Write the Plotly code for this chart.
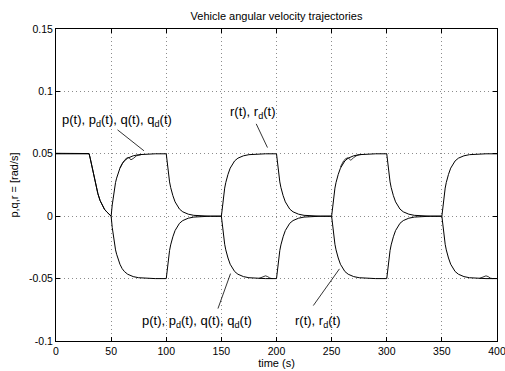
import plotly.graph_objects as go

# ---------------- data ----------------
t = [0, 10, 20, 30, 31, 32, 33, 34, 35, 36, 38, 40, 42, 44, 46, 48,
     50, 51, 52, 53, 54, 55, 56, 58, 60, 62, 65, 70, 75, 80, 90,
     100, 101, 102, 103, 104, 105, 106, 108, 110, 112, 115, 120, 125, 130, 140,
     150, 151, 152, 153, 154, 155, 156, 158, 160, 162, 165, 170, 175, 180, 190,
     200, 201, 202, 203, 204, 205, 206, 208, 210, 212, 215, 220, 225, 230, 240,
     250, 251, 252, 253, 254, 255, 256, 258, 260, 262, 265, 270, 275, 280, 290,
     300, 301, 302, 303, 304, 305, 306, 308, 310, 312, 315, 320, 325, 330, 340,
     350, 351, 352, 353, 354, 355, 356, 358, 360, 362, 365, 370, 375, 380, 390,
     400]

# p(t), p_d(t), q(t), q_d(t)  [rad/s]
pq = [0.05, 0.05, 0.05, 0.05, 0.0465, 0.042, 0.0375, 0.033, 0.029, 0.025, 0.018, 0.0125, 0.0085, 0.0055, 0.0035, 0.002,
      0.0, 0.009, 0.0165, 0.0225, 0.027, 0.0305, 0.0335, 0.0385, 0.042, 0.0443, 0.0465, 0.0484, 0.0493, 0.0497, 0.05,
      0.05, 0.041, 0.0335, 0.0275, 0.023, 0.0195, 0.0165, 0.0115, 0.008, 0.0057, 0.0035, 0.0016, 0.0007, 0.0003, 0.0,
      0.0, -0.009, -0.0165, -0.0225, -0.027, -0.0305, -0.0335, -0.0385, -0.042, -0.0443, -0.0465, -0.0484, -0.0493, -0.0497, -0.05,
      -0.05, -0.041, -0.0335, -0.0275, -0.023, -0.0195, -0.0165, -0.0115, -0.008, -0.0057, -0.0035, -0.0016, -0.0007, -0.0003, 0.0,
      0.0, 0.009, 0.0165, 0.0225, 0.027, 0.0305, 0.0335, 0.0385, 0.042, 0.0443, 0.0465, 0.0484, 0.0493, 0.0497, 0.05,
      0.05, 0.041, 0.0335, 0.0275, 0.023, 0.0195, 0.0165, 0.0115, 0.008, 0.0057, 0.0035, 0.0016, 0.0007, 0.0003, 0.0,
      0.0, -0.009, -0.0165, -0.0225, -0.027, -0.0305, -0.0335, -0.0385, -0.042, -0.0443, -0.0465, -0.0484, -0.0493, -0.0497, -0.05,
      -0.05]

# r(t), r_d(t)  [rad/s]
r = [0.0504, 0.0504, 0.0503, 0.0502, 0.0465, 0.042, 0.0375, 0.033, 0.029, 0.025, 0.018, 0.0125, 0.0085, 0.0055, 0.0035, 0.002,
     0.0, -0.009, -0.0165, -0.0225, -0.027, -0.0305, -0.0335, -0.0385, -0.042, -0.0443, -0.0465, -0.0484, -0.0493, -0.0497, -0.05,
     -0.05, -0.041, -0.0335, -0.0275, -0.023, -0.0195, -0.0165, -0.0115, -0.008, -0.0057, -0.0035, -0.0016, -0.0007, -0.0003, 0.0,
     0.0, 0.009, 0.0165, 0.0225, 0.027, 0.0305, 0.0335, 0.0385, 0.042, 0.0443, 0.0465, 0.0484, 0.0493, 0.0497, 0.05,
     0.05, 0.041, 0.0335, 0.0275, 0.023, 0.0195, 0.0165, 0.0115, 0.008, 0.0057, 0.0035, 0.0016, 0.0007, 0.0003, 0.0,
     0.0, -0.009, -0.0165, -0.0225, -0.027, -0.0305, -0.0335, -0.0385, -0.042, -0.0443, -0.0465, -0.0484, -0.0493, -0.0497, -0.05,
     -0.05, -0.041, -0.0335, -0.0275, -0.023, -0.0195, -0.0165, -0.0115, -0.008, -0.0057, -0.0035, -0.0016, -0.0007, -0.0003, 0.0,
     0.0, 0.009, 0.0165, 0.0225, 0.027, 0.0305, 0.0335, 0.0385, 0.042, 0.0443, 0.0465, 0.0484, 0.0493, 0.0497, 0.05,
     0.05]

# small deviations of the actual q(t) from q_d(t)
q_dev1_t = [58, 61, 64, 66, 67, 68, 70, 73, 77]
q_dev1_v = [0.0385, 0.0435, 0.0466, 0.047, 0.0460, 0.0452, 0.0462, 0.0484, 0.0492]
q_dev2_t = [184, 186, 188, 190, 192, 194, 196]
q_dev2_v = [-0.0499, -0.0493, -0.0482, -0.0478, -0.0484, -0.0496, -0.05]
q_dev3_t = [258, 261, 263, 265, 266, 267, 268, 270, 273, 277]
q_dev3_v = [0.0395, 0.0445, 0.0462, 0.0468, 0.0458, 0.0450, 0.0452, 0.0470, 0.0487, 0.0495]
q_dev4_t = [384, 386, 388, 390, 392, 394, 396]
q_dev4_v = [-0.0499, -0.0493, -0.0482, -0.0478, -0.0484, -0.0496, -0.05]

x_ticks = [0, 50, 100, 150, 200, 250, 300, 350, 400]
y_ticks = [-0.1, -0.05, 0, 0.05, 0.1, 0.15]
y_tick_text = ["-0.1", "-0.05", "0", "0.05", "0.1", "0.15"]

# label texts, anchor (t, value), leader line (t0, v0, t1, v1)
label_text = ["p(t), p<sub>d</sub>(t), q(t), q<sub>d</sub>(t)", "r(t), r<sub>d</sub>(t)",
              "p(t), p<sub>d</sub>(t), q(t), q<sub>d</sub>(t)", "r(t), r<sub>d</sub>(t)"]
label_t = [55.5, 178.7, 127.5, 237.6]
label_v = [0.0765, 0.0830, -0.0840, -0.0844]
leader_t0 = [55.8, 181.6, 146.9, 233.4]
leader_v0 = [0.0692, 0.0740, -0.0740, -0.0716]
leader_t1 = [79.8, 191.8, 158.3, 257.1]
leader_v1 = [0.0524, 0.0550, -0.0460, -0.0422]

# ---------------- figure ----------------
line_style = dict(color="black", width=1)
fig = go.Figure()
fig.add_trace(go.Scatter(x=t, y=pq, mode="lines", line=line_style, name="p, p_d, q, q_d"))
fig.add_trace(go.Scatter(x=t, y=r, mode="lines", line=line_style, name="r, r_d"))
for tx, vy in [(q_dev1_t, q_dev1_v), (q_dev2_t, q_dev2_v), (q_dev3_t, q_dev3_v), (q_dev4_t, q_dev4_v)]:
    fig.add_trace(go.Scatter(x=tx, y=vy, mode="lines", line=dict(color="black", width=0.8), name="q"))

for i in range(len(label_text)):
    fig.add_annotation(x=label_t[i], y=label_v[i], text=label_text[i], showarrow=False,
                       xanchor="center", yanchor="middle", font=dict(size=13, color="black"))
    fig.add_shape(type="line", x0=leader_t0[i], y0=leader_v0[i], x1=leader_t1[i], y1=leader_v1[i],
                  line=dict(color="black", width=0.8))

axis_common = dict(showgrid=True, gridcolor="#8c8c8c", griddash="1px,3px", gridwidth=1,
                   showline=True, linecolor="black", linewidth=1, mirror="ticks",
                   ticks="inside", ticklen=4, tickcolor="black", zeroline=False,
                   automargin=False, ticklabeloverflow="allow",
                   tickfont=dict(size=10.5, color="black"))

fig.update_xaxes(range=[0, 400], tickvals=x_ticks, ticktext=[str(v) for v in x_ticks],
                 title=dict(text="time (s)", font=dict(size=11), standoff=2), **axis_common)
fig.update_yaxes(range=[-0.1, 0.15], tickvals=y_ticks, ticktext=y_tick_text,
                 title=dict(text="p,q,r = [rad/s]", font=dict(size=11), standoff=8), **axis_common)

fig.update_layout(
    width=505, height=371,
    margin=dict(l=56, r=8, t=29, b=29.5),
    showlegend=False,
    plot_bgcolor="white", paper_bgcolor="white",
    font=dict(family="Liberation Sans, Arial, Helvetica, sans-serif", color="black", size=10.5),
    title=dict(text="Vehicle angular velocity trajectories", font=dict(size=11),
               x=0.5, xref="paper", xanchor="center", y=1 - 16 / 371, yref="container", yanchor="middle"),
)

fig.write_html("out.html", config={"displayModeBar": False},
               post_script="document.body.style.margin='0px';document.body.style.overflow='hidden';")
